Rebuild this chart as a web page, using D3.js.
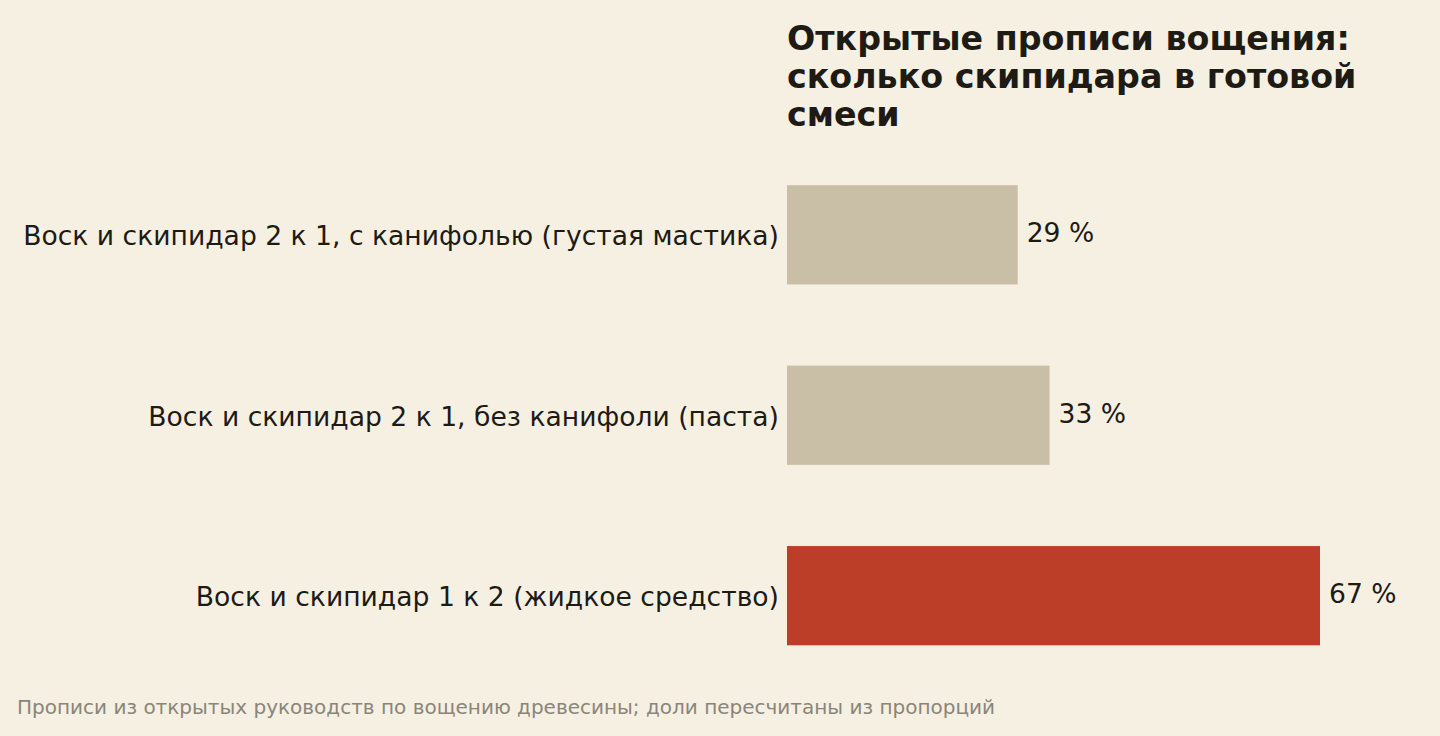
<!DOCTYPE html>
<html><head><meta charset="utf-8">
<script src="https://cdn.jsdelivr.net/npm/d3@7"></script>
<style>
html,body{margin:0;padding:0;background:#f6f0e3;}
svg{display:block;}
</style></head>
<body>
<script>
const categories = [
  "Воск и скипидар 2 к 1, с канифолью (густая мастика)",
  "Воск и скипидар 2 к 1, без канифоли (паста)",
  "Воск и скипидар 1 к 2 (жидкое средство)"
];
const values = [29, 33, 67];
const valueLabels = ["29 %", "33 %", "67 %"];
const highlight = [false, false, true];
const titleLines = ["Открытые прописи вощения:", "сколько скипидара в готовой", "смеси"];
const footnote = "Прописи из открытых руководств по вощению древесины; доли пересчитаны из пропорций";

const W = 1440, H = 736;
const svg = d3.select("body").append("svg").attr("width", W).attr("height", H);
svg.append("rect").attr("width", W).attr("height", H).attr("fill", "#f6f0e3");

const font = "'DejaVu Sans', sans-serif";
const x = d3.scaleLinear().domain([0, d3.max(values)]).range([787, 1320]);
const y = d3.scaleBand().domain(categories).range([104, 726.5]).paddingInner(0.45).paddingOuter(0.45);

svg.append("g").selectAll("text").data(titleLines).join("text")
  .attr("x", 787).attr("y", (d, i) => 50 + i * 38)
  .attr("font-family", font).attr("font-weight", "bold").attr("font-size", 33.3)
  .attr("fill", "#1e1a14").text(d => d);

const rows = categories.map((c, i) => ({c, v: values[i], l: valueLabels[i], h: highlight[i]}));

svg.append("g").selectAll("rect").data(rows).join("rect")
  .attr("x", x(0)).attr("y", d => y(d.c))
  .attr("width", d => x(d.v) - x(0)).attr("height", y.bandwidth())
  .attr("fill", d => d.h ? "#bd3e28" : "#c9bfa6");

svg.append("g").selectAll("text").data(rows).join("text")
  .attr("x", x(0) - 8).attr("y", d => y(d.c) + y.bandwidth() / 2 + 1)
  .attr("dy", "0.35em").attr("text-anchor", "end")
  .attr("font-family", font).attr("font-size", 26.6).attr("fill", "#1e1a14")
  .text(d => d.c);

svg.append("g").selectAll("text").data(rows).join("text")
  .attr("x", d => x(d.v) + 9).attr("y", d => y(d.c) + y.bandwidth() / 2 - 2)
  .attr("dy", "0.35em")
  .attr("font-family", font).attr("font-size", 26.6).attr("fill", "#1e1a14")
  .text(d => d.l);

svg.append("text").attr("x", 17).attr("y", 714)
  .attr("font-family", font).attr("font-size", 20).attr("fill", "#8a857a")
  .text(footnote);
</script>
</body></html>
